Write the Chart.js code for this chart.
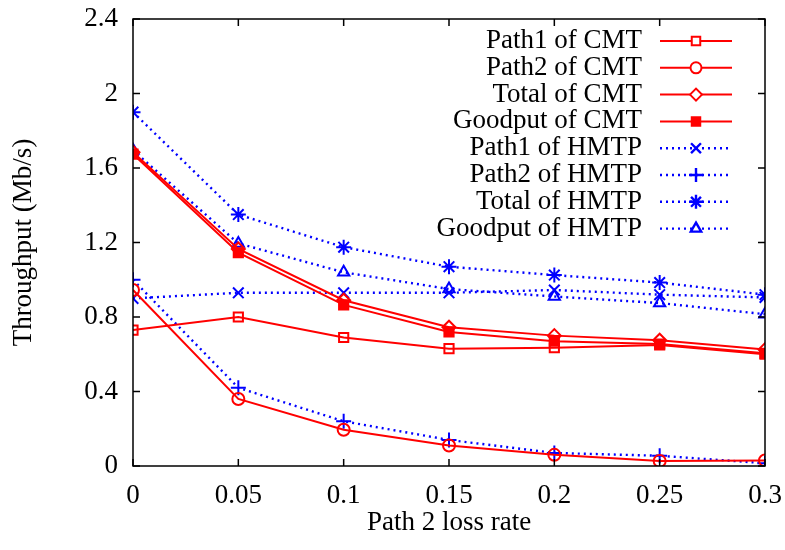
<!DOCTYPE html>
<html>
<head>
<meta charset="utf-8">
<script src="https://cdn.jsdelivr.net/npm/chart.js@4.4.1/dist/chart.umd.min.js"></script>
<style>
  html, body { margin: 0; padding: 0; background: #fff; }
  #wrap { width: 785px; height: 550px; }
</style>
</head>
<body>
<div id="wrap"><canvas id="chart" width="785" height="550"></canvas></div>
<script>
// loss rates on path 2
var lossRates = [0, 0.05, 0.1, 0.15, 0.2, 0.25, 0.3];
var xTickLabels = ['0', '0.05', '0.1', '0.15', '0.2', '0.25', '0.3'];
var yTickLabels = ['0', '0.4', '0.8', '1.2', '1.6', '2', '2.4'];

// throughput (Mb/s)
var path1CMT    = [0.73, 0.80, 0.69, 0.63, 0.635, 0.65, 0.60];
var path2CMT    = [0.945, 0.36, 0.195, 0.11, 0.06, 0.027, 0.03];
var totalCMT    = [1.685, 1.165, 0.89, 0.745, 0.70, 0.675, 0.625];
var goodputCMT  = [1.675, 1.145, 0.865, 0.72, 0.67, 0.655, 0.605];
var path1HMTP   = [0.90, 0.93, 0.93, 0.93, 0.945, 0.92, 0.905];
var path2HMTP   = [1.0, 0.42, 0.24, 0.14, 0.07, 0.055, 0.015];
var totalHMTP   = [1.90, 1.35, 1.175, 1.07, 1.025, 0.985, 0.92];
var goodputHMTP = [1.695, 1.195, 1.04, 0.95, 0.91, 0.875, 0.815];

var seriesNames = ['Path1 of CMT', 'Path2 of CMT', 'Total of CMT', 'Goodput of CMT',
                   'Path1 of HMTP', 'Path2 of HMTP', 'Total of HMTP', 'Goodput of HMTP'];
var seriesValues = [path1CMT, path2CMT, totalCMT, goodputCMT,
                    path1HMTP, path2HMTP, totalHMTP, goodputHMTP];
var markers = ['rect', 'circle', 'rectRot', 'rect', 'crossRot', 'cross', 'star', 'triangle'];

var RED = '#ff0000';
var BLUE = '#0000ff';
var FONT = '"Liberation Serif", "Times New Roman", serif';

function toPoints(vals){
    var pts = [];
    for (var i = 0; i < vals.length; i++){
        pts.push({x: lossRates[i], y: vals[i]});
    }
    return pts;
}

function markerSize(style){
    if (style == 'circle') return 6;
    if (style == 'crossRot' || style == 'cross' || style == 'star') return 7.5;
    return 6.5;
}

var datasets = [];
for (var i = 0; i < seriesNames.length; i++){
    var cmt = i < 4;
    datasets.push({
        label: seriesNames[i],
        data: toPoints(seriesValues[i]),
        borderColor: cmt ? RED : BLUE,
        backgroundColor: (i == 3) ? RED : 'rgba(0,0,0,0)',
        pointBorderColor: cmt ? RED : BLUE,
        pointBackgroundColor: (i == 3) ? RED : 'rgba(0,0,0,0)',
        borderWidth: cmt ? 2 : 2.4,
        borderDash: cmt ? [] : [2, 4],
        pointStyle: markers[i],
        pointRadius: markerSize(markers[i]),
        pointBorderWidth: 2,
        tension: 0,
        fill: false
    });
}

// frame, inner ticks, legend and axis titles in gnuplot style
var gnuplotLook = {
    id: 'gnuplotLook',
    afterDraw: function(chart){
        var ctx = chart.ctx;
        var a = chart.chartArea;
        var xs = chart.scales.x, ys = chart.scales.y;
        var tl = 7;
        ctx.save();
        ctx.strokeStyle = '#000';
        ctx.lineWidth = 1.5;
        ctx.strokeRect(a.left, a.top, a.right - a.left, a.bottom - a.top);
        ctx.beginPath();
        for (var i = 0; i < lossRates.length; i++){
            var px = xs.getPixelForValue(lossRates[i]);
            ctx.moveTo(px, a.bottom); ctx.lineTo(px, a.bottom - tl);
            ctx.moveTo(px, a.top); ctx.lineTo(px, a.top + tl);
        }
        for (var j = 0; j < yTickLabels.length; j++){
            var py = ys.getPixelForValue(parseFloat(yTickLabels[j]));
            ctx.moveTo(a.left, py); ctx.lineTo(a.left + tl, py);
            ctx.moveTo(a.right, py); ctx.lineTo(a.right - tl, py);
        }
        ctx.stroke();

        // legend
        ctx.font = '27px ' + FONT;
        ctx.textAlign = 'right';
        ctx.textBaseline = 'middle';
        var textRight = 642, lx0 = 660, lx1 = 732, rowY = 41, rowH = 26.8;
        for (var k = 0; k < chart.data.datasets.length; k++){
            var ds = chart.data.datasets[k];
            var y = rowY + k * rowH;
            ctx.fillStyle = '#000';
            ctx.fillText(ds.label, textRight, y);
            ctx.strokeStyle = ds.borderColor;
            ctx.lineWidth = ds.borderWidth;
            ctx.setLineDash(ds.borderDash);
            ctx.beginPath();
            ctx.moveTo(lx0, y); ctx.lineTo(lx1, y);
            ctx.stroke();
            ctx.setLineDash([]);
            var opts = {
                pointStyle: ds.pointStyle,
                radius: ds.pointRadius - 0.5,
                rotation: 0,
                borderWidth: 2
            };
            ctx.fillStyle = (k == 3) ? RED : '#ffffff';
            Chart.helpers.drawPoint(ctx, opts, (lx0 + lx1) / 2, y);
        }

        // axis titles
        ctx.fillStyle = '#000';
        ctx.textAlign = 'center';
        ctx.font = '27px ' + FONT;
        ctx.fillText('Path 2 loss rate', (a.left + a.right) / 2, 523);
        ctx.translate(24, (a.top + a.bottom) / 2);
        ctx.rotate(-Math.PI / 2);
        ctx.fillText('Throughput (Mb/s)', 0, 0);
        ctx.restore();
    }
};

var chart = new Chart(document.getElementById('chart'), {
    type: 'line',
    data: { datasets: datasets },
    options: {
        responsive: false,
        animation: false,
        layout: { padding: { top: 19, right: 20, left: 0, bottom: 0 } },
        plugins: {
            legend: { display: false },
            tooltip: { enabled: false }
        },
        scales: {
            x: {
                type: 'linear',
                min: 0,
                max: 0.3,
                afterBuildTicks: function(s){
                    s.ticks = lossRates.map(function(v){ return {value: v}; });
                },
                afterFit: function(s){
                    s.height = 550 - 466;
                    s.paddingLeft = 0; s.paddingRight = 0;
                },
                grid: { display: false, drawTicks: false },
                border: { display: false },
                ticks: {
                    padding: 14,
                    color: '#000',
                    font: { family: FONT, size: 27 },
                    callback: function(v, idx){ return xTickLabels[idx]; }
                }
            },
            y: {
                type: 'linear',
                min: 0,
                max: 2.4,
                afterBuildTicks: function(s){
                    s.ticks = yTickLabels.map(function(v){ return {value: parseFloat(v)}; });
                },
                afterFit: function(s){
                    s.width = 133;
                    s.paddingTop = 0; s.paddingBottom = 0;
                },
                grid: { display: false, drawTicks: false },
                border: { display: false },
                ticks: {
                    padding: 15,
                    color: '#000',
                    font: { family: FONT, size: 27 },
                    callback: function(v, idx){ return yTickLabels[idx]; }
                }
            }
        }
    },
    plugins: [gnuplotLook]
});
</script>
</body>
</html>
